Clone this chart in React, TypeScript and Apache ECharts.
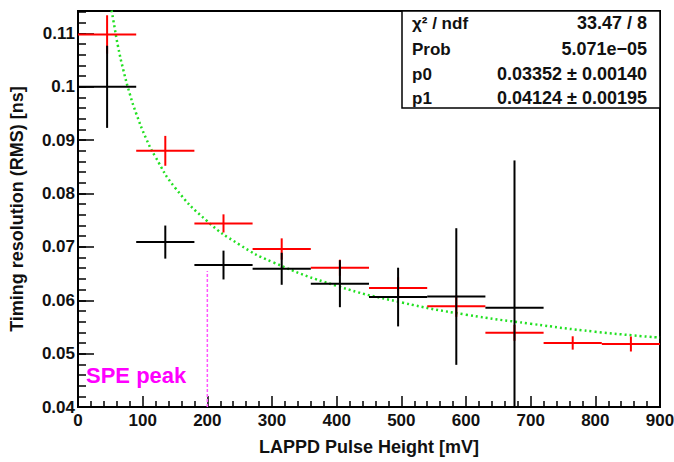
import React, { useEffect, useRef } from "react";
import * as echarts from "echarts";

// ---- data ----
const binCenters = [45, 135, 225, 315, 405, 495, 585, 675, 765, 855];
const binHalfWidth = 45;
const redValues = [0.1098, 0.088, 0.0744, 0.0696, 0.0661, 0.0623, 0.0589, 0.0539, 0.052, 0.0518];
const redErrors = [0.0036, 0.0028, 0.0017, 0.002, 0.0015, 0.002, 0.002, 0.0015, 0.00125, 0.0014];
const blackCenters = [45, 135, 225, 315, 405, 495, 585, 675];
const blackValues = [0.1, 0.0709, 0.0666, 0.0659, 0.0631, 0.0606, 0.0607, 0.0586];
const blackErrors = [0.0077, 0.0031, 0.0027, 0.003, 0.0044, 0.0055, 0.0128, 0.0276];
const fitX = [52, 55, 62, 70, 80, 90, 105, 120, 150, 200, 250, 300, 400, 500, 600, 700, 800, 900];
const fitY = [0.1143, 0.1122, 0.1075, 0.1032, 0.0987, 0.095, 0.0904, 0.0868, 0.0811, 0.0748, 0.0704, 0.0672, 0.0627, 0.0596, 0.0573, 0.0556, 0.0541, 0.053];
const speX = 200;
const speTop = 0.0655;
const statLabels = ["χ² / ndf", "Prob", "p0", "p1"];
const statValues = ["33.47 / 8", "5.071e−05", "0.03352 ± 0.00140", "0.04124 ± 0.00195"];
const X_MIN = 0;
const X_MAX = 900;
const Y_MIN = 0.04;
const Y_MAX = 0.1142;

const FONT = "'Liberation Sans', Arial, Helvetica, sans-serif";

function errorSeries(xs: number[], ys: number[], es: number[], color: string) {
  return {
    type: "custom",
    data: xs.map((x, i) => [x, ys[i], es[i]]),
    renderItem: (_p: any, api: any) => {
      const x = api.value(0);
      const y = api.value(1);
      const e = api.value(2);
      const lo = Math.max(y - e, Y_MIN);
      const hi = Math.min(y + e, Y_MAX);
      const pL = api.coord([Math.max(x - binHalfWidth, X_MIN), y]);
      const pR = api.coord([Math.min(x + binHalfWidth, X_MAX), y]);
      const pT = api.coord([x, hi]);
      const pB = api.coord([x, lo]);
      return {
        type: "group",
        children: [
          { type: "line", shape: { x1: pL[0], y1: pL[1], x2: pR[0], y2: pR[1] }, style: { stroke: color, lineWidth: 2 } },
          { type: "line", shape: { x1: pT[0], y1: pT[1], x2: pB[0], y2: pB[1] }, style: { stroke: color, lineWidth: 2 } },
        ],
      };
    },
    z: 5,
  };
}

export default function App() {
  const ref = useRef<HTMLDivElement>(null);
  useEffect(() => {
    document.body.style.margin = "0";
    const chart = echarts.init(ref.current!, undefined, { renderer: "svg" });
    const gridLeft = 78, gridTop = 11, gridRight = 14, gridBottom = 55;
    const boxX = 402, boxY = 11, boxW = 258, boxH = 97;
    const rowY = [23, 49, 74, 98];
    const graphics: any[] = [
      {
        type: "rect",
        shape: { x: boxX, y: boxY, width: boxW, height: boxH },
        style: { fill: "#fff", stroke: "#000", lineWidth: 1.5 },
        z: 10,
      },
    ];
    statLabels.forEach((t, i) => {
      graphics.push({
        type: "text",
        x: 412,
        y: rowY[i],
        style: { text: t, fill: "#111", font: `bold 17px ${FONT}`, textAlign: "left", textVerticalAlign: "middle" },
        z: 11,
      });
      graphics.push({
        type: "text",
        x: 647,
        y: rowY[i],
        style: { text: statValues[i], fill: "#111", font: `bold 18px ${FONT}`, textAlign: "right", textVerticalAlign: "middle" },
        z: 11,
      });
    });
    graphics.push({
      type: "text",
      x: 86,
      y: 375,
      style: { text: "SPE peak", fill: "#ff00ff", font: `bold 22px ${FONT}`, textAlign: "left", textVerticalAlign: "middle" },
      z: 11,
    });

    chart.setOption({
      animation: false,
      backgroundColor: "#fff",
      grid: {
        left: gridLeft,
        top: gridTop,
        right: gridRight,
        bottom: gridBottom,
        containLabel: false,
        outerBoundsMode: "none",
        show: true,
        borderColor: "#000",
        borderWidth: 2,
        backgroundColor: "transparent",
      },
      xAxis: {
        type: "value",
        min: X_MIN,
        max: X_MAX,
        interval: 100,
        name: "LAPPD Pulse Height [mV]",
        nameLocation: "middle",
        nameGap: 31,
        nameTextStyle: { fontFamily: FONT, fontWeight: "bold", fontSize: 18, color: "#111" },
        axisLine: { show: true, lineStyle: { color: "#000", width: 2 } },
        axisTick: { show: true, inside: true, length: 11, lineStyle: { color: "#000", width: 1.5 } },
        minorTick: { show: true, splitNumber: 5, length: 6, lineStyle: { color: "#000", width: 1.5 } },
        axisLabel: { margin: 5, fontFamily: FONT, fontWeight: "bold", fontSize: 17, color: "#111" },
        splitLine: { show: false },
      },
      yAxis: [
        {
          type: "value",
          min: Y_MIN,
          max: Y_MAX,
          interval: 0.01,
          name: "Timing resolution (RMS) [ns]",
          nameLocation: "middle",
          nameGap: 52,
          nameTextStyle: { fontFamily: FONT, fontWeight: "bold", fontSize: 18, color: "#111" },
          axisLine: { show: true, lineStyle: { color: "#000", width: 2 } },
          axisTick: { show: true, inside: true, length: 16, lineStyle: { color: "#000", width: 1.5 } },
          axisLabel: {
            margin: 3,
            showMaxLabel: false,
            fontFamily: FONT,
            fontWeight: "bold",
            fontSize: 17,
            color: "#111",
            formatter: (v: number) => String(Math.round(v * 100) / 100),
          },
          splitLine: { show: false },
        },
        {
          type: "value",
          min: Y_MIN,
          max: Y_MAX,
          interval: 0.002,
          position: "left",
          axisLine: { show: false },
          axisTick: { show: true, inside: true, length: 8, lineStyle: { color: "#000", width: 1.5 } },
          axisLabel: { show: false },
          splitLine: { show: false },
        },
      ],
      series: [
        {
          type: "line",
          data: fitX.map((x, i) => [x, fitY[i]]),
          smooth: true,
          showSymbol: false,
          clip: true,
          lineStyle: { color: "#22e022", width: 2.5, type: [2, 3] },
          z: 4,
        },
        {
          type: "line",
          data: [
            [speX, Y_MIN],
            [speX, speTop],
          ],
          showSymbol: false,
          lineStyle: { color: "#ff55ff", width: 1.5, type: [3, 2] },
          z: 3,
        },
        errorSeries(binCenters, redValues, redErrors, "#ff0000"),
        errorSeries(blackCenters, blackValues, blackErrors, "#000000"),
      ],
      graphic: graphics,
    });
    return () => chart.dispose();
  }, []);
  return <div ref={ref} style={{ width: 674, height: 462 }} />;
}
